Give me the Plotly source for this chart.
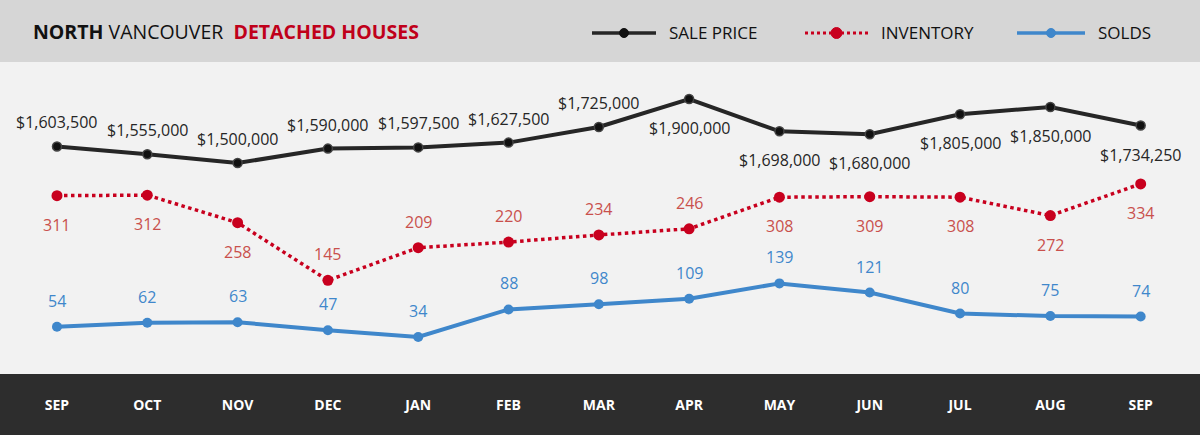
import plotly.graph_objects as go

months = ['SEP', 'OCT', 'NOV', 'DEC', 'JAN', 'FEB', 'MAR', 'APR', 'MAY', 'JUN', 'JUL', 'AUG', 'SEP']
sale_price = [1603500, 1555000, 1500000, 1590000, 1597500, 1627500, 1725000,
              1900000, 1698000, 1680000, 1805000, 1850000, 1734250]
inventory = [311, 312, 258, 145, 209, 220, 234, 246, 308, 309, 308, 272, 334]
solds = [54, 62, 63, 47, 34, 88, 98, 109, 139, 121, 80, 75, 74]

# which labels sit above (1) or below (-1) their point
price_side = [1, 1, 1, 1, 1, 1, 1, -1, -1, -1, -1, -1, -1]
inv_side = [-1, -1, -1, 1, 1, 1, 1, 1, -1, -1, -1, -1, -1]

xs = list(range(len(months)))

BLACK = '#262626'
RED = '#c8001e'
RED_TXT = '#c9504c'
BLUE = '#3f87cb'
FONT = 'Open Sans'

fig = go.Figure()

fig.add_trace(go.Scatter(x=xs, y=sale_price, yaxis='y2', mode='lines+markers',
                         line=dict(color=BLACK, width=4),
                         marker=dict(size=9, color='#111111', line=dict(color='#444444', width=1.5)),
                         name='SALE PRICE', showlegend=False))
fig.add_trace(go.Scatter(x=xs, y=inventory, mode='lines+markers',
                         line=dict(color=RED, width=3.5, dash='dot'),
                         marker=dict(size=11, color=RED),
                         name='INVENTORY', showlegend=False))
fig.add_trace(go.Scatter(x=xs, y=solds, mode='lines+markers',
                         line=dict(color=BLUE, width=4),
                         marker=dict(size=10, color=BLUE),
                         name='SOLDS', showlegend=False))

# value labels
for i in xs:
    fig.add_annotation(x=xs[i], y=sale_price[i], yref='y2', text='${:,}'.format(sale_price[i]),
                       showarrow=False, yshift=24 if price_side[i] > 0 else -29,
                       font=dict(family=FONT, size=16, color=BLACK))
    fig.add_annotation(x=xs[i], y=inventory[i], text=str(inventory[i]),
                       showarrow=False, yshift=26 if inv_side[i] > 0 else -29,
                       font=dict(family=FONT, size=16, color=RED_TXT))
    fig.add_annotation(x=xs[i], y=solds[i], text=str(solds[i]),
                       showarrow=False, yshift=26,
                       font=dict(family=FONT, size=16, color=BLUE))

# header title
fig.add_annotation(xref='paper', yref='paper', x=31 / 1200, y=1 + 30 / 312, xanchor='left', yanchor='middle',
                   text="<b>NORTH</b> VANCOUVER  <b><span style='color:#c0001a'>DETACHED HOUSES</span></b>",
                   showarrow=False, font=dict(family=FONT, size=19.5, color='#111111'))

# hand built legend in the header
legend_items = [('SALE PRICE', BLACK, 'solid', 592, 656, '#111111', 9),
                ('INVENTORY', RED, 'dot', 805, 868, RED, 11),
                ('SOLDS', BLUE, 'solid', 1017, 1085, BLUE, 9)]
ly = 1 + 29 / 312
for label, col, dash, x0, x1, mcol, msize in legend_items:
    fig.add_shape(type='line', xref='paper', yref='paper', x0=x0 / 1200, x1=x1 / 1200, y0=ly, y1=ly,
                  line=dict(color=col, width=3.5 if dash == 'solid' else 3, dash=dash))
    cx = (x0 + x1) / 2
    r = msize / 2
    fig.add_shape(type='circle', xref='paper', yref='paper', x0=(cx - r) / 1200, x1=(cx + r) / 1200,
                  y0=ly - r / 312, y1=ly + r / 312, fillcolor=mcol, line=dict(color=mcol, width=1))
    fig.add_annotation(xref='paper', yref='paper', x=(x1 + 11) / 1200, y=ly, xanchor='left', yanchor='middle',
                       text=label, showarrow=False, font=dict(family=FONT, size=17, color='#111111'))

# dark band under the plot
fig.add_shape(type='rect', xref='paper', yref='paper', x0=0, x1=1, y0=-61 / 312, y1=0,
              fillcolor='#2d2d2d', line=dict(width=0), layer='below')

fig.update_layout(
    width=1200, height=435,
    margin=dict(l=0, r=0, t=62, b=61),
    paper_bgcolor='#d6d6d6',
    plot_bgcolor='#f2f2f2',
    xaxis=dict(range=[-0.631, 12.657], tickvals=xs, ticktext=months, showgrid=False,
               zeroline=False, showline=False, ticks='', ticklabelstandoff=21,
               tickfont=dict(family=FONT, size=14, color='white', weight='bold'), fixedrange=True),
    yaxis=dict(range=[-38.6, 573], visible=False, showgrid=False, zeroline=False),
    yaxis2=dict(range=[181250, 2131250], overlaying='y', visible=False, showgrid=False, zeroline=False),
    showlegend=False,
)

fig.write_html("out.html", config={'displayModeBar': False},
               post_script="document.body.style.margin='0';")
